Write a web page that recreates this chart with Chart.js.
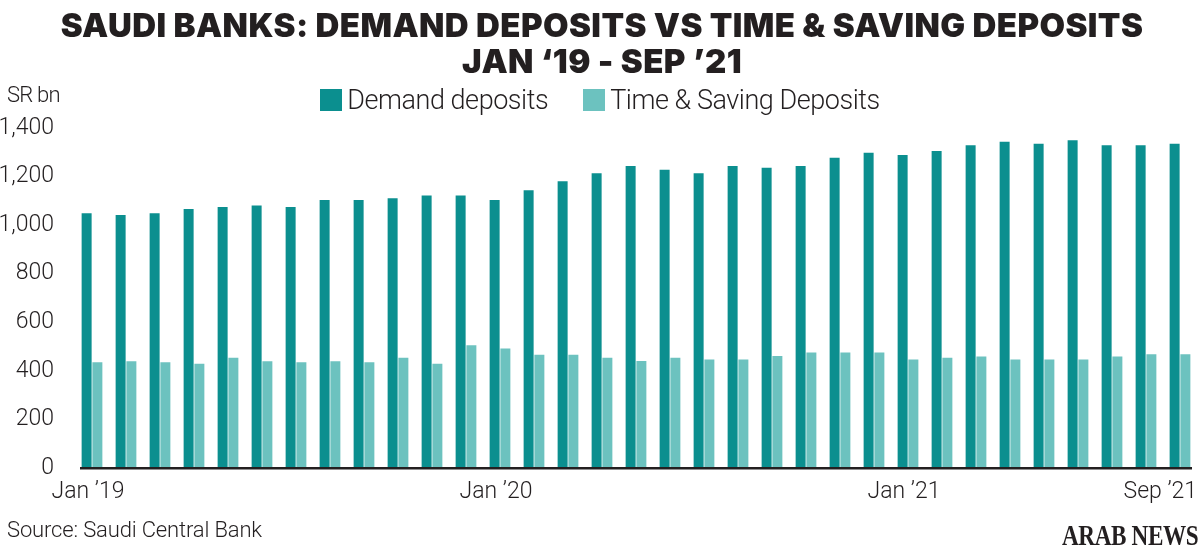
<!DOCTYPE html>
<html>
<head>
<meta charset="utf-8">
<script src="https://cdn.jsdelivr.net/npm/chart.js@4.4.1/dist/chart.umd.min.js"></script>
<style>
  html, body { margin:0; padding:0; background:#fff; }
  body { width:1200px; height:550px; position:relative; overflow:hidden; font-family: Roboto, "Noto Sans", sans-serif; color:#231f20; }
  #title { position:absolute; left:0; top:7px; width:1204px; text-align:center; font-family: Inter, "Liberation Sans", sans-serif; font-weight:900; font-size:33px; line-height:36px; letter-spacing:0.4px; color:#231f20; }
  #legend { position:absolute; left:0; top:84px; width:1200px; display:flex; justify-content:center; align-items:center; gap:35px; font-weight:300; font-size:27px; }
  .item { display:flex; align-items:center; gap:5px; letter-spacing:-0.45px; }
  .sw { width:22px; height:22px; display:inline-block; }
  #unit { position:absolute; left:7px; top:82px; font-size:22px; font-weight:300; letter-spacing:-0.8px; }
  #source { position:absolute; left:7px; top:517px; font-size:22px; font-weight:300; letter-spacing:-0.15px; }
  #logo { position:absolute; left:1062px; top:521px; font-family:"Liberation Serif", "DejaVu Serif", serif; font-weight:bold; font-size:29px; line-height:29px; transform-origin:left top; transform:scaleX(0.8); letter-spacing:-0.5px; white-space:nowrap; }
  canvas { position:absolute; left:0; top:0; }
</style>
</head>
<body>
<canvas id="c" width="1200" height="550"></canvas>
<div id="title">SAUDI BANKS: DEMAND DEPOSITS VS TIME &amp; SAVING DEPOSITS<br>JAN ‘19 - SEP ’21</div>
<div id="legend"></div>
<div id="unit">SR bn</div>
<div id="source">Source: Saudi Central Bank</div>
<div id="logo">ARAB NEWS</div>
<script>
// ---- data ----
const months = [
  "Jan ’19","Feb ’19","Mar ’19","Apr ’19","May ’19","Jun ’19","Jul ’19","Aug ’19","Sep ’19","Oct ’19","Nov ’19","Dec ’19",
  "Jan ’20","Feb ’20","Mar ’20","Apr ’20","May ’20","Jun ’20","Jul ’20","Aug ’20","Sep ’20","Oct ’20","Nov ’20","Dec ’20",
  "Jan ’21","Feb ’21","Mar ’21","Apr ’21","May ’21","Jun ’21","Jul ’21","Aug ’21","Sep ’21"
];
const demandDeposits = [1049,1042,1049,1066,1075,1081,1075,1104,1104,1111,1122,1122,
                        1104,1144,1181,1214,1244,1228,1214,1244,1236,1244,1277,1298,
                        1289,1305,1329,1343,1335,1350,1329,1329,1335];
const timeSavingDeposits = [435,440,435,429,454,440,435,440,435,454,429,505,
                            492,466,466,454,441,454,447,447,461,476,476,476,
                            447,454,459,447,447,447,459,468,468];
const shownTicks = ["Jan ’19","Jan ’20","Jan ’21","Sep ’21"];
const yMin = 0, yMax = 1400, yStep = 200;
const seriesNames = ["Demand deposits", "Time & Saving Deposits"];
const seriesColors = ["#0b8f8f", "#6cc2bf"];

// ---- legend (HTML, built from series) ----
const lg = document.getElementById('legend');
seriesNames.forEach((n, i) => {
  const it = document.createElement('div'); it.className = 'item';
  const sw = document.createElement('span'); sw.className = 'sw'; sw.style.background = seriesColors[i];
  const tx = document.createElement('span'); tx.textContent = n;
  it.appendChild(sw); it.appendChild(tx); lg.appendChild(it);
});

const ink = '#231f20';
const axisPlugin = {
  id: 'axisPlugin',
  afterDatasetsDraw(chart) {
    const ctx = chart.ctx, x = chart.scales.x, y = chart.scales.y, ca = chart.chartArea;
    const y0 = y.getPixelForValue(0);
    ctx.save();
    ctx.strokeStyle = ink; ctx.lineWidth = 2.6;
    ctx.beginPath(); ctx.moveTo(ca.left + 5, y0 + 0.3); ctx.lineTo(ca.right - 5, y0 + 0.3); ctx.stroke();
    ctx.fillStyle = ink;
    ctx.font = '300 23px Roboto, "Noto Sans", sans-serif';
    ctx.textBaseline = 'middle';
    shownTicks.forEach((lab) => {
      const idx = months.indexOf(lab);
      let px = x.getPixelForValue(idx) - 4;
      const w = ctx.measureText(lab).width;
      ctx.textAlign = 'center';
      if (px + w / 2 > 1197) { ctx.textAlign = 'right'; px = 1197; }
      ctx.fillText(lab, px, 492);
    });
    ctx.restore();
  }
};

new Chart(document.getElementById('c'), {
  type: 'bar',
  data: {
    labels: months,
    datasets: [
      { label: seriesNames[0], data: demandDeposits, backgroundColor: seriesColors[0], categoryPercentage: 0.632, barPercentage: 0.93 },
      { label: seriesNames[1], data: timeSavingDeposits, backgroundColor: seriesColors[1], categoryPercentage: 0.632, barPercentage: 0.93 }
    ]
  },
  options: {
    responsive: false,
    animation: false,
    devicePixelRatio: 1,
    layout: { padding: { top: 128, bottom: 82, left: 0, right: 3 } },
    plugins: { legend: { display: false }, tooltip: { enabled: false }, title: { display: false } },
    scales: {
      x: { display: false },
      y: {
        min: yMin, max: yMax,
        grid: { display: false },
        border: { display: false },
        ticks: {
          stepSize: yStep, padding: 13, color: ink,
          font: { family: 'Roboto, "Noto Sans", sans-serif', size: 23, weight: 300 },
          callback: v => v.toLocaleString('en-US')
        },
        afterFit: s => { s.width = 75; }
      }
    }
  },
  plugins: [axisPlugin]
});
</script>
</body>
</html>
